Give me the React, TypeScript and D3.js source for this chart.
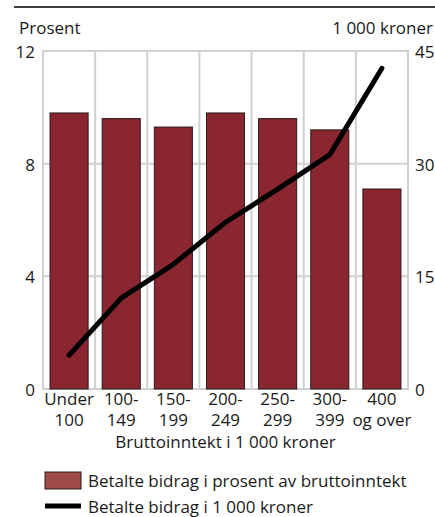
import { useEffect, useRef } from 'react';
import * as d3 from 'd3';

const categories = ['Under\n100', '100-\n149', '150-\n199', '200-\n249', '250-\n299', '300-\n399', '400\nog over'];
const percentValues = [9.8, 9.6, 9.3, 9.8, 9.6, 9.2, 7.1];
const kronerValues = [4.5, 12.1, 16.6, 22.2, 26.6, 31.2, 42.7];
const leftTicks = [0, 4, 8, 12];
const rightTicks = [0, 15, 30, 45];

const width = 435;
const height = 517;
const FONT = '"Open Sans", "Noto Sans", sans-serif';

const App = () => {
  const svgRef = useRef<SVGSVGElement>(null);

  useEffect(() => {
    if (!svgRef.current) return;
    const svg = d3.select(svgRef.current);
    svg.selectAll('*').remove();

    const left = 43;
    const right = 408;
    const top = 51;
    const bottom = 389;

    const x = d3.scaleBand().domain(categories).range([left, right]).paddingInner(0.27).paddingOuter(0.135);
    const xGrid = d3.scaleBand().domain(categories).range([left, right]);
    const yL = d3.scaleLinear().domain([0, 12]).range([bottom, top]);
    const yR = d3.scaleLinear().domain([0, 45]).range([bottom, top]);

    // top rule
    svg.append('line')
      .attr('x1', 14).attr('x2', width).attr('y1', 7).attr('y2', 7)
      .attr('stroke', '#000').attr('stroke-width', 1.5);

    const grid = svg.append('g').attr('stroke', '#d0d0d0').attr('stroke-width', 2);
    categories.slice(1).forEach((c) => {
      const gx = xGrid(c)!;
      grid.append('line').attr('x1', gx).attr('x2', gx).attr('y1', top).attr('y2', bottom);
    });
    leftTicks.slice(1, -1).forEach((t) => {
      grid.append('line').attr('x1', left).attr('x2', right).attr('y1', yL(t)).attr('y2', yL(t));
    });
    grid.append('rect')
      .attr('x', left).attr('y', top).attr('width', right - left).attr('height', bottom - top)
      .attr('fill', 'none');

    // bars
    svg.append('g')
      .selectAll('rect')
      .data(percentValues)
      .join('rect')
      .attr('x', (_, i) => x(categories[i])!)
      .attr('width', x.bandwidth())
      .attr('y', (d) => yL(d))
      .attr('height', (d) => bottom - yL(d))
      .attr('fill', '#8a2630')
      .attr('stroke', '#2a1a1a')
      .attr('stroke-width', 1);

    // line
    const line = d3.line<number>()
      .x((_, i) => xGrid(categories[i])! + xGrid.bandwidth() / 2)
      .y((d) => yR(d));
    svg.append('path')
      .datum(kronerValues)
      .attr('d', line)
      .attr('fill', 'none')
      .attr('stroke', '#000')
      .attr('stroke-width', 5)
      .attr('stroke-linecap', 'round')
      .attr('stroke-linejoin', 'round');

    const text = svg.append('g').attr('font-family', FONT).attr('font-size', 17).attr('fill', '#1a1a1a');

    leftTicks.forEach((t) => {
      text.append('text').attr('x', 35).attr('y', yL(t) + 7)
        .attr('text-anchor', 'end').text(t);
    });
    rightTicks.forEach((t) => {
      text.append('text').attr('x', 415).attr('y', yR(t) + 7)
        .attr('text-anchor', 'start').text(t);
    });

    text.append('text').attr('x', 19).attr('y', 34).text('Prosent');
    text.append('text').attr('x', 433).attr('y', 34).attr('text-anchor', 'end').text('1 000 kroner');

    categories.forEach((c) => {
      const cx = xGrid(c)! + xGrid.bandwidth() / 2;
      c.split('\n').forEach((ln, k) => {
        text.append('text').attr('x', cx).attr('y', 405 + k * 21)
          .attr('text-anchor', 'middle').text(ln);
      });
    });

    text.append('text').attr('x', (left + right) / 2).attr('y', 448)
      .attr('text-anchor', 'middle').text('Bruttoinntekt i 1 000 kroner');

    // legend
    svg.append('rect')
      .attr('x', 45).attr('y', 472).attr('width', 36).attr('height', 17)
      .attr('fill', '#a04a4a').attr('stroke', '#2a1a1a').attr('stroke-width', 1);
    text.append('text').attr('x', 88).attr('y', 487).text('Betalte bidrag i prosent av bruttoinntekt');
    svg.append('line')
      .attr('x1', 45).attr('x2', 81).attr('y1', 506).attr('y2', 506)
      .attr('stroke', '#000').attr('stroke-width', 5);
    text.append('text').attr('x', 88).attr('y', 513).text('Betalte bidrag i 1 000 kroner');
  }, []);

  return (
    <div style={{ position: 'absolute', left: 0, top: 0 }}>
      <svg ref={svgRef} width={width} height={height} style={{ display: 'block', background: '#fff' }} />
    </div>
  );
};

export default App;
